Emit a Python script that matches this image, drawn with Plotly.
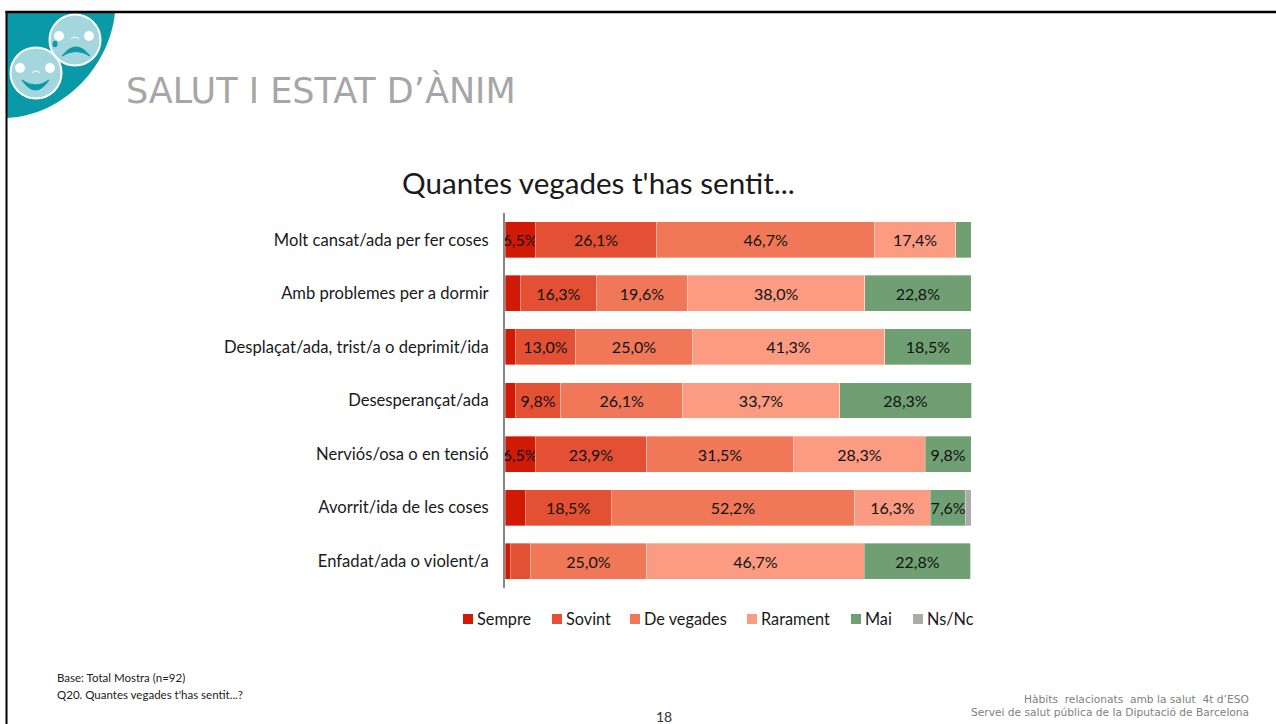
import plotly.graph_objects as go

categories = ["Molt cansat/ada per fer coses", "Amb problemes per a dormir",
              "Desplaçat/ada, trist/a o deprimit/ida", "Desesperançat/ada",
              "Nerviós/osa o en tensió", "Avorrit/ida de les coses",
              "Enfadat/ada o violent/a"]
sempre = [6.5, 3.3, 2.2, 2.2, 6.5, 4.3, 1.1]
sovint = [26.1, 16.3, 13.0, 9.8, 23.9, 18.5, 4.3]
de_vegades = [46.7, 19.6, 25.0, 26.1, 31.5, 52.2, 25.0]
rarament = [17.4, 38.0, 41.3, 33.7, 28.3, 16.3, 46.7]
mai = [3.3, 22.8, 18.5, 28.3, 9.8, 7.6, 22.8]
ns_nc = [0, 0, 0, 0, 0, 1.1, 0]
series_names = ["Sempre", "Sovint", "De vegades", "Rarament", "Mai", "Ns/Nc"]
series_values = [sempre, sovint, de_vegades, rarament, mai, ns_nc]
colors = ["#D01A05", "#E45033", "#F07858", "#FA9B82", "#6F9F72", "#AEAAAA"]
legend_swatch_x = [463, 552, 630, 747, 851, 913]
MIN_LABEL = 6.0

W, H = 1276, 724
X = lambda p: p / W
Y = lambda p: 1 - p / H
BODY = "Lato, 'Noto Sans', sans-serif"

fig = go.Figure()
for name, vals, col in zip(series_names, series_values, colors):
    fig.add_trace(go.Bar(
        name=name, y=categories, x=vals, orientation="h",
        marker=dict(color=col, line=dict(color="rgba(255,255,255,0.45)", width=0.75)),
        text=[f"{v:.1f}%".replace(".", ",") if v >= MIN_LABEL else "" for v in vals],
        textposition="inside", insidetextanchor="middle", textangle=0,
        constraintext="none", cliponaxis=False,
        textfont=dict(family=BODY, size=16, color="#111111"),
        hoverinfo="x+y+name", showlegend=False,
    ))

shapes = []
def path_shape(d, fill, line=None, width=0):
    shapes.append(dict(type="path", path=d, xref="paper", yref="paper",
                       fillcolor=fill, layer="above",
                       line=dict(color=line or "rgba(0,0,0,0)", width=width)))

def pth(cmds):
    out = []
    for c in cmds:
        if isinstance(c, str):
            out.append(c)
        else:
            out.append(f"{X(c[0]):.5f},{Y(c[1]):.5f}")
    return " ".join(out)

def circle(cx, cy, rx, ry, fill, line=None, width=0):
    shapes.append(dict(type="circle", xref="paper", yref="paper", layer="above",
                       x0=X(cx - rx), x1=X(cx + rx), y0=Y(cy + ry), y1=Y(cy - ry),
                       fillcolor=fill, line=dict(color=line or "rgba(0,0,0,0)", width=width)))

TEAL = "#0A99A6"
FACE = "#A3D6DD"
# teal corner
path_shape(pth(["M", (7, 12), "L", (115, 12), "C", (110, 65), (65, 115), (7, 118), "Z"]), TEAL)
# upper (sad) face
circle(75, 40, 25.5, 25.5, FACE, "#FFFFFF", 2)
circle(59, 36, 5, 5, "#FFFFFF")
circle(89, 36, 5, 5, "#FFFFFF")
circle(55, 44, 2.5, 3.2, TEAL)
path_shape(pth(["M", (62, 56), "Q", (76, 38), (90, 56), "Q", (76, 47), (62, 56), "Z"]), TEAL, TEAL, 1)
path_shape(pth(["M", (71, 39), "Q", (75, 35), (79, 39)]), "rgba(0,0,0,0)", "#FFFFFF", 1)
# lower (happy) face
circle(36, 73, 25.5, 25.5, FACE, "#FFFFFF", 2)
circle(20, 68, 5, 5, "#FFFFFF")
circle(50, 68, 5, 5, "#FFFFFF")
path_shape(pth(["M", (22, 80), "Q", (35.5, 100), (49, 80), "Q", (35.5, 90), (22, 80), "Z"]), TEAL, TEAL, 1)
path_shape(pth(["M", (32, 73), "Q", (36, 69), (40, 73)]), "rgba(0,0,0,0)", "#FFFFFF", 1)
# slide frame
shapes.append(dict(type="line", xref="paper", yref="paper", layer="above",
                   x0=X(5.5), x1=1, y0=Y(12), y1=Y(12), line=dict(color="#000000", width=2.5)))
shapes.append(dict(type="line", xref="paper", yref="paper", layer="above",
                   x0=X(6.5), x1=X(6.5), y0=0, y1=Y(11), line=dict(color="#000000", width=2)))

def txt(s, x, y, size, color, family=BODY, anchor="left"):
    return dict(text=s, xref="paper", yref="paper", x=X(x), y=Y(y), xanchor=anchor,
                yanchor="middle", showarrow=False, align=anchor,
                font=dict(family=family, size=size, color=color))

annotations = [
    txt("SALUT I ESTAT D’ÀNIM", 123.5, 90.5, 35, "#A6A6A6", "'DejaVu Sans'"),
    txt("Quantes vegades t'has sentit...", 598, 182, 29.6, "#1A1A1A", anchor="center"),
    txt("Base: Total Mostra (n=92)", 54.5, 677, 11.5, "#222222"),
    txt("Q20. Quantes vegades t'has sentit...?", 54.5, 694, 11.5, "#222222"),
    txt("18", 664, 716, 14, "#333333", anchor="center"),
    txt("Hàbits  relacionats  amb la salut  4t d’ESO", 1251, 699, 10.65, "#808080", "'DejaVu Sans'", "right"),
    txt("Servei de salut pública de la Diputació de Barcelona", 1251, 712, 10.65, "#808080", "'DejaVu Sans'", "right"),
]

# legend: swatch + label, laid out to the reference's tighter spacing
for name, col, sx in zip(series_names, colors, legend_swatch_x):
    shapes.append(dict(type="rect", xref="paper", yref="paper", layer="above",
                       x0=X(sx), x1=X(sx + 10), y0=Y(624), y1=Y(614),
                       fillcolor=col, line=dict(width=0)))
    annotations.append(txt(name, sx + 12, 618.5, 16.3, "#1A1A1A"))

fig.update_layout(
    width=W, height=H, margin=dict(l=0, r=0, t=0, b=0, pad=0),
    paper_bgcolor="#FFFFFF", plot_bgcolor="#FFFFFF",
    barmode="stack", bargap=0.33, bargroupgap=0,
    font=dict(family=BODY, color="#1A1A1A"),
    xaxis=dict(domain=[X(505), X(972.9)], range=[0, 100.4], visible=False, fixedrange=True),
    yaxis=dict(domain=[Y(588), Y(213)], autorange="reversed", showline=True,
               linecolor="#868686", linewidth=2, ticks="", showgrid=False,
               ticklabelstandoff=11, tickfont=dict(family=BODY, size=16.6, color="#1A1A1A"),
               fixedrange=True),
    shapes=shapes, annotations=annotations, showlegend=False,
)

post = """
document.body.style.margin='0';
document.body.style.overflow='hidden';
"""
fig.write_html("out.html", post_script=post, config=dict(displayModeBar=False))
